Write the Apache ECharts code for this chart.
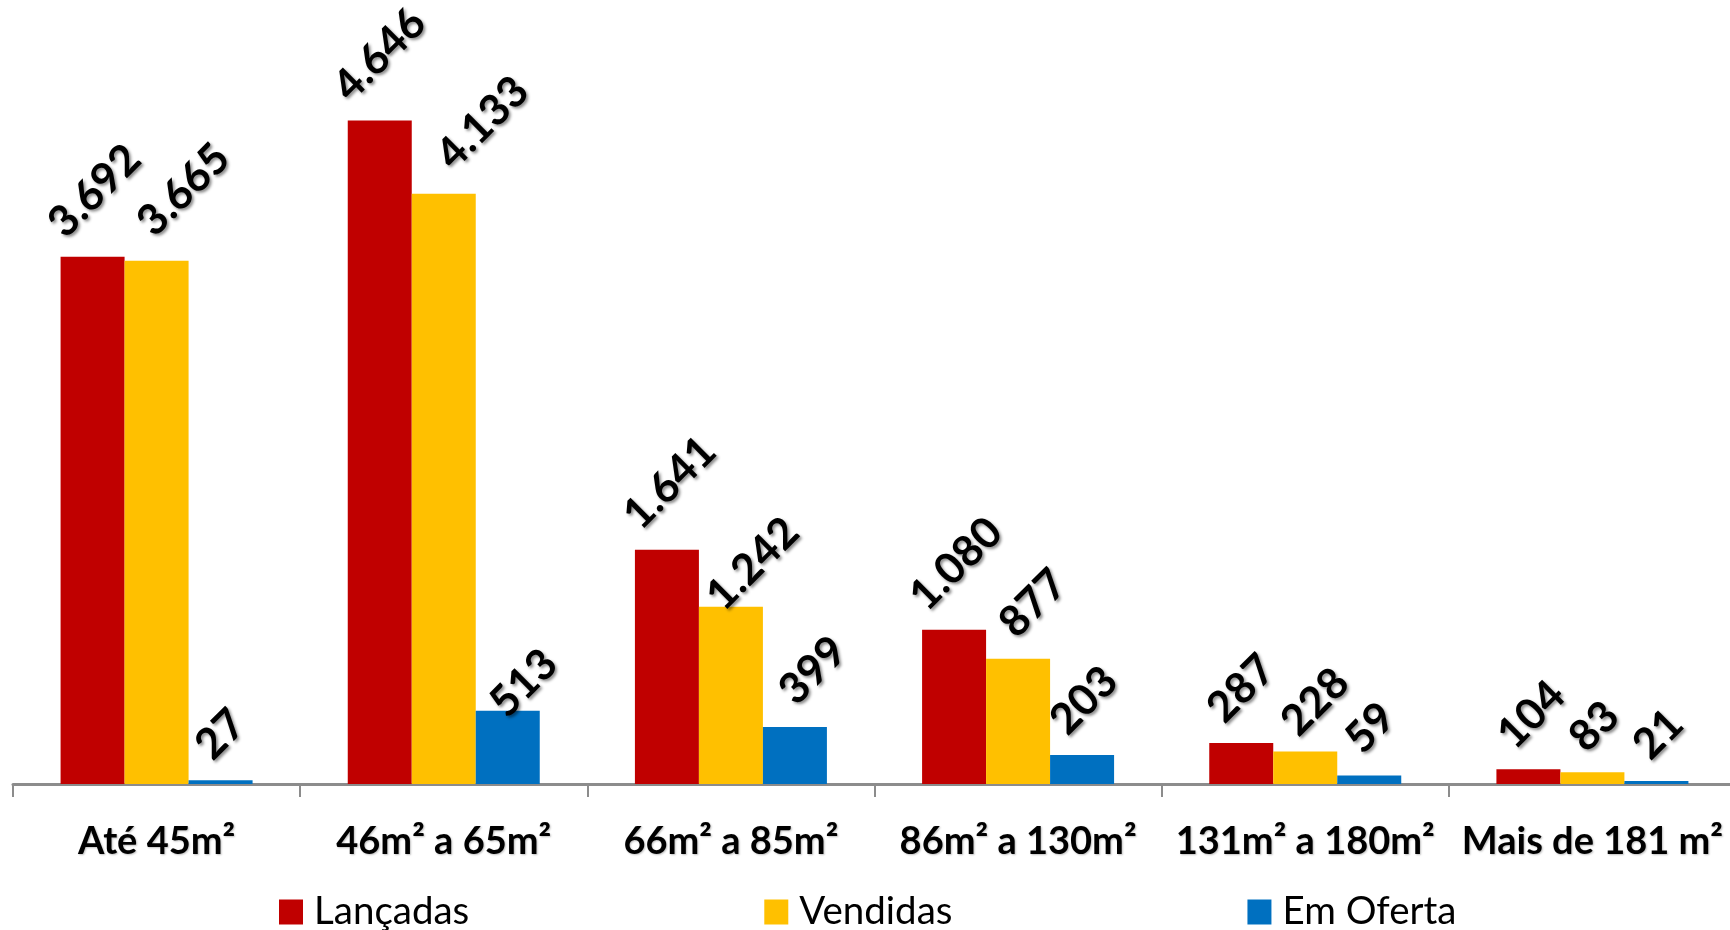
<!DOCTYPE html>
<html><head><meta charset="utf-8">
<script src="https://cdn.jsdelivr.net/npm/echarts@6/dist/echarts.min.js"></script>
<style>html,body{margin:0;padding:0;background:#fff}#c{width:1730px;height:930px}</style>
</head><body><div id="c"></div>
<script>
const categories = ['Até 45m²','46m² a 65m²','66m² a 85m²','86m² a 130m²','131m² a 180m²','Mais de 181 m²'];
const seriesNames = ['Lançadas','Vendidas','Em Oferta'];
const lancadas = [3692,4646,1641,1080,287,104];
const vendidas = [3665,4133,1242,877,228,83];
const emOferta = [27,513,399,203,59,21];
const colors = ['#C00000','#FFC000','#0070C0'];

// Label placement nudges (screen px, dx/dy) copying the reference's label layout
const labelNudge = [
  [[2,0],[0,0],[3,-1],[2,0],[0,-1],[3,-1]],
  [[27,-5],[39,-5],[22,23],[15,-2],[10,4],[2,-1]],
  [[0,-1],[16,26],[18,-3],[2,-1],[1,-3],[2,-2]]
];

const FONT = 'Lato, Carlito, "Open Sans", sans-serif';
const LABEL_SIZE = 43;
const ctx = document.createElement('canvas').getContext('2d');
ctx.font = 'bold ' + LABEL_SIZE + 'px ' + FONT;
function fmt(v){ return String(v).replace(/\B(?=(\d{3})+(?!\d))/g,'.'); }
function labelOffset(v, nudge){
  const L = ctx.measureText(fmt(v)).width;
  const h = LABEL_SIZE*0.72;
  const D = 16 + (L + h)/(2*Math.SQRT2);
  const sx = nudge[0], sy = -D + nudge[1];
  return [(sx - sy)/Math.SQRT2, (sx + sy)/Math.SQRT2];
}
function mk(idx, vals){
  return {
    name: seriesNames[idx], type:'bar', barWidth:64, barGap:'0%',
    itemStyle:{color:colors[idx]},
    data: vals.map((v,i)=>({value:v, label:{offset:labelOffset(v, labelNudge[idx][i])}})),
    label:{show:true, position:'top', distance:0, rotate:45, align:'center', verticalAlign:'middle',
      formatter:p=>fmt(p.value), fontFamily:FONT, fontWeight:'bold', fontSize:LABEL_SIZE, color:'#000',
      textShadowColor:'rgba(0,0,0,0.45)', textShadowBlur:3, textShadowOffsetX:2, textShadowOffsetY:2}
  };
}
const chart = echarts.init(document.getElementById('c'));
chart.setOption({
  animation:false,
  backgroundColor:'#fff',
  grid:{left:13, width:1723, top:70, bottom:146, outerBoundsMode:'none', containLabel:false},
  legend:{left:279, top:892, padding:0, itemWidth:24, itemHeight:25, itemGap:295, icon:'rect',
    data:seriesNames,
    textStyle:{fontFamily:FONT, fontSize:38.5, color:'#000', lineHeight:40, padding:[0,0,0,6]}},
  xAxis:{type:'category', data:categories,
    axisLine:{lineStyle:{color:'#8c8c8c', width:3}},
    axisTick:{show:true, length:13, lineStyle:{color:'#8c8c8c', width:2}},
    axisLabel:{interval:0, fontFamily:FONT, fontWeight:'bold', fontSize:38, color:'#000', margin:39,
      textShadowColor:'rgba(0,0,0,0.25)', textShadowBlur:2, textShadowOffsetX:1, textShadowOffsetY:1}},
  yAxis:{type:'value', min:0, max:5000, show:false, splitLine:{show:false}},
  series:[mk(0, lancadas), mk(1, vendidas), mk(2, emOferta)]
});
</script></body></html>
